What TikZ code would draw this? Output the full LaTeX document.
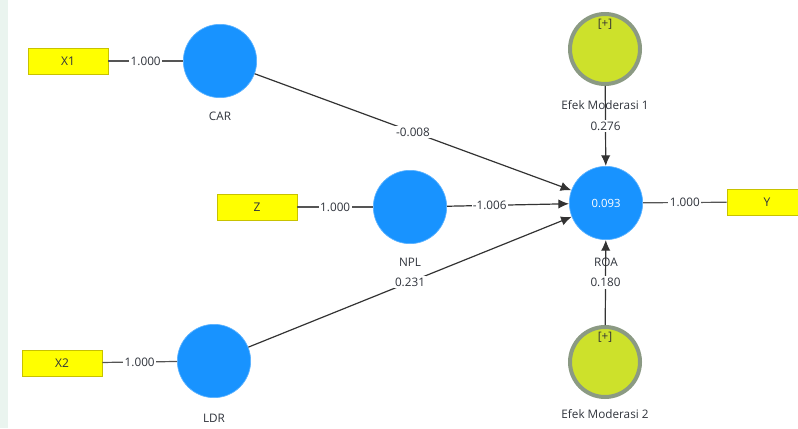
\documentclass[tikz,border=0pt]{standalone}
\usepackage{fontspec}
\setmainfont{Open Sans}
\usetikzlibrary{arrows.meta,positioning}
\definecolor{sLatent}{HTML}{1893FF}
\definecolor{sItemFill}{HTML}{FFFF00}
\definecolor{sItemEdge}{HTML}{C8C200}
\definecolor{sModFill}{HTML}{CDE12B}
\definecolor{sModRim}{HTML}{8B9A83}
\definecolor{sInk}{HTML}{30343C}
\definecolor{sPath}{HTML}{333333}
\definecolor{sLoad}{HTML}{555555}
\definecolor{sMark}{HTML}{EAF4EF}
\begin{document}
\begin{tikzpicture}[
  x=0.75pt, y=-0.75pt,
  latent/.style={circle, fill=sLatent, draw=sLatent!70!white, line width=.5pt,
    minimum size=55pt, inner sep=0pt, text=white, font=\fontsize{8.5}{9}\selectfont},
  moderator/.style={circle, fill=sModFill, draw=sModRim, line width=3pt,
    minimum size=52.5pt, inner sep=0pt},
  item/.style={rectangle, fill=sItemFill, draw=sItemEdge, line width=.6pt,
    minimum width=60pt, minimum height=19.5pt, inner sep=0pt, text=sInk,
    font=\fontsize{9}{10}\selectfont},
  lvname/.style={inner sep=1pt, text=sInk, font=\fontsize{8.8}{10}\selectfont},
  plus/.style={inner sep=0pt, text=black!80, font=\fontsize{8.8}{10}\selectfont},
  coef/.style={fill=white, inner xsep=1pt, inner ysep=1.5pt, text=sInk,
    font=\fontsize{8.8}{10}\selectfont},
  loading/.style={draw=sLoad, line width=.9pt},
  effect/.style={draw=sPath, line width=.9pt, -{Latex[length=8pt,width=7pt]}},
]
\useasboundingbox (0,0) rectangle (798,428);
\fill[sMark] (0,0) rectangle (8,428);

% ---- indicators ----------------------------------------------------------
\node[item] (x1) at (68,61)  {X1};
\node[item] (z)  at (257,207) {Z};
\node[item] (x2) at (62,363) {X2};
\node[item] (y)  at (767,202) {Y};

% ---- latent variables ----------------------------------------------------
\node[latent] (car) at (220,61)  {};
\node[latent] (npl) at (410,207) {};
\node[latent] (ldr) at (214,361) {};
\node[latent] (roa) at (606,203) {0.093};
\node[lvname] (carname) at (220,116) {CAR};
\node[lvname] (nplname) at (410,262) {NPL};
\node[lvname] (ldrname) at (214,418) {LDR};
\node[lvname] (roaname) at (606,262) {ROA};

% ---- moderating effects --------------------------------------------------
\node[moderator] (em1) at (605,49)  {};
\node[moderator] (em2) at (605,362) {};
\node[plus] (em1plus) at (605,24)  {[+]};
\node[plus] (em2plus) at (605,337) {[+]};
\node[lvname] (em1name) at (605,105) {Efek Moderasi 1};
\node[lvname] (em2name) at (605,414) {Efek Moderasi 2};

% ---- outer loadings ------------------------------------------------------
\draw[loading] (x1) -- node[coef] {1.000} (car);
\draw[loading] (z)  -- node[coef] {1.000} (npl);
\draw[loading] (x2) -- node[coef] {1.000} (ldr);
\draw[loading] (roa) -- node[coef] {1.000} (y);

% ---- path coefficients ---------------------------------------------------
\draw[effect] (car) -- node[coef] {-0.008} (roa);
\draw[effect] (npl) -- node[coef, pos=.35] {-1.006} (roa);
\draw[effect] (ldr) -- node[coef] {0.231} (roa);
\draw[effect] (em1) -- node[coef] {0.276} (roa);
\draw[effect] (em2) -- node[coef] {0.180} (roa);
\end{tikzpicture}
\end{document}
